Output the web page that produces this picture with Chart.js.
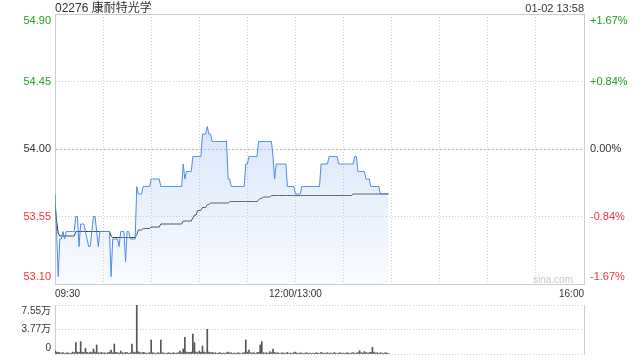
<!DOCTYPE html>
<html>
<head>
<meta charset="utf-8">
<script src="https://cdn.jsdelivr.net/npm/chart.js@4.4.0/dist/chart.umd.min.js"></script>
<style>
  body { margin: 0; background: #fff; font-family: "Liberation Sans", Arial, "Noto Sans CJK SC", sans-serif; }
  #wrap { position: relative; width: 640px; height: 360px; overflow: hidden; }
  #title { position: absolute; left: 55px; top: 1px; font-size: 12px; line-height: 14px; color: #333; }
  #time { position: absolute; right: 56px; top: 1px; font-size: 11px; line-height: 14px; color: #333; }
  #main { position: absolute; left: 0; top: 0; }
  #vol { position: absolute; left: 0; top: 300px; }
</style>
</head>
<body>
<div id="wrap">
  <canvas id="main" width="640" height="300"></canvas>
  <canvas id="vol" width="640" height="60"></canvas>
  <div id="title">02276 康耐特光学</div>
  <div id="time">01-02 13:58</div>
</div>
<script>
// minute index: 0 = 09:30, 150 = 12:00/13:00, 330 = 16:00
var xTickPos = [0, 150, 330];
var xTickLabels = ['09:30', '12:00/13:00', '16:00'];
var gridMinutes = [0, 30, 60, 90, 120, 150, 180, 210, 240, 270, 300, 330];

var priceTicks = [53.10, 53.55, 54.00, 54.45, 54.90];
var priceLabels = ['53.10', '53.55', '54.00', '54.45', '54.90'];
var pctLabels = ['-1.67%', '-0.84%', '0.00%', '+0.84%', '+1.67%'];

var volTicks = [0, 3.77, 7.55];
var volLabels = ['0', '3.77万', '7.55万'];

// last price per minute, 09:30 .. 13:58
var prices = [
  53.70,53.45,53.15,53.40,53.40,53.45,53.40,53.45,53.45,53.45,
  53.45,53.45,53.45,53.55,53.55,53.35,53.50,53.50,53.50,53.45,
  53.40,53.35,53.35,53.45,53.55,53.55,53.45,53.35,53.45,53.45,
  53.45,53.45,53.45,53.45,53.45,53.15,53.40,53.40,53.40,53.40,
  53.35,53.45,53.45,53.45,53.25,53.45,53.45,53.40,53.40,53.40,
  53.40,53.75,53.70,53.70,53.70,53.75,53.75,53.75,53.75,53.75,
  53.80,53.80,53.80,53.80,53.80,53.80,53.75,53.75,53.75,53.75,
  53.75,53.75,53.75,53.75,53.75,53.75,53.75,53.75,53.75,53.75,
  53.90,53.80,53.85,53.85,53.85,53.85,53.95,53.95,53.95,53.95,
  53.95,53.95,54.10,54.10,54.10,54.15,54.10,54.10,54.05,54.05,
  54.05,54.05,54.05,54.05,54.05,54.05,54.05,54.05,53.80,53.80,
  53.75,53.75,53.75,53.75,53.75,53.75,53.75,53.75,53.75,53.90,
  53.90,53.95,53.95,53.95,53.95,53.95,53.95,54.05,54.05,54.05,
  54.05,54.05,54.05,54.05,54.05,54.05,53.95,53.80,53.90,53.90,
  53.90,53.90,53.90,53.90,53.90,53.75,53.75,53.75,53.75,53.75,
  53.70,53.70,53.70,53.70,53.75,53.75,53.75,53.75,53.75,53.75,
  53.75,53.75,53.75,53.75,53.75,53.75,53.90,53.90,53.90,53.90,
  53.90,53.95,53.95,53.95,53.95,53.95,53.95,53.90,53.90,53.90,
  53.90,53.90,53.90,53.90,53.90,53.90,53.90,53.95,53.95,53.85,
  53.85,53.85,53.85,53.85,53.80,53.80,53.80,53.75,53.75,53.75,
  53.75,53.75,53.75,53.70,53.70,53.70,53.70,53.70,53.70
];

// average price line
var avgPrices = [
  53.64,53.52,53.44,53.42,53.42,53.42,53.42,53.42,53.42,53.42,
  53.42,53.42,53.42,53.45,53.45,53.45,53.45,53.45,53.45,53.45,
  53.45,53.45,53.45,53.45,53.45,53.45,53.45,53.45,53.45,53.45,
  53.45,53.45,53.45,53.45,53.45,53.42,53.41,53.41,53.41,53.41,
  53.41,53.41,53.41,53.41,53.41,53.41,53.41,53.41,53.41,53.41,
  53.41,53.43,53.46,53.46,53.46,53.47,53.47,53.47,53.47,53.47,
  53.48,53.48,53.48,53.48,53.48,53.48,53.50,53.50,53.50,53.50,
  53.50,53.50,53.50,53.50,53.50,53.50,53.50,53.50,53.50,53.50,
  53.52,53.52,53.52,53.52,53.52,53.52,53.54,53.56,53.56,53.59,
  53.59,53.59,53.61,53.61,53.61,53.63,53.63,53.64,53.64,53.64,
  53.64,53.64,53.64,53.64,53.64,53.64,53.64,53.64,53.64,53.65,
  53.65,53.65,53.65,53.65,53.65,53.65,53.65,53.65,53.65,53.65,
  53.65,53.65,53.65,53.65,53.65,53.65,53.65,53.66,53.67,53.67,
  53.68,53.68,53.68,53.68,53.68,53.69,53.69,53.69,53.69,53.69,
  53.69,53.69,53.69,53.69,53.69,53.69,53.69,53.69,53.69,53.69,
  53.69,53.69,53.69,53.69,53.69,53.69,53.69,53.69,53.69,53.69,
  53.69,53.69,53.69,53.69,53.69,53.69,53.69,53.69,53.69,53.69,
  53.69,53.69,53.69,53.69,53.69,53.69,53.69,53.69,53.69,53.69,
  53.69,53.69,53.69,53.69,53.69,53.69,53.70,53.70,53.70,53.70,
  53.70,53.70,53.70,53.70,53.70,53.70,53.70,53.70,53.70,53.70,
  53.70,53.70,53.70,53.70,53.70,53.70,53.70,53.70,53.70
];

// volume per minute, in 万 shares
var volumes = [
  0.50,0.30,0.25,0.20,0.15,0.20,0.10,0.15,0.20,0.10,
  0.15,0.30,0.20,1.75,0.30,0.25,1.90,0.30,0.20,0.87,
  0.25,0.15,0.30,0.20,0.77,0.30,1.39,0.20,0.15,0.25,
  0.15,0.20,0.10,0.20,0.30,0.62,0.20,1.54,0.25,0.20,
  0.15,0.46,0.20,0.15,0.25,0.20,0.10,0.20,1.54,0.30,
  0.20,7.55,0.35,0.20,0.15,0.25,0.20,0.10,0.15,0.20,
  2.16,0.20,0.15,0.10,0.20,0.15,2.16,0.20,0.15,0.10,
  0.15,0.20,0.10,0.15,0.20,0.10,0.15,0.20,0.46,0.20,
  0.77,2.57,0.30,0.20,0.25,0.30,3.08,1.75,0.30,0.20,
  0.46,0.25,1.23,0.30,0.20,3.80,0.30,0.20,0.25,0.15,
  0.20,0.10,0.15,0.20,0.10,0.15,0.10,0.20,0.30,0.15,
  0.20,0.10,0.15,0.10,0.20,0.15,0.10,0.15,0.20,2.16,
  0.30,0.62,0.20,0.15,0.20,0.10,0.20,0.25,1.39,1.90,
  0.20,0.15,0.20,0.10,0.36,0.20,0.77,0.25,0.15,0.20,
  0.10,0.15,0.20,0.10,0.15,0.25,0.10,0.15,0.10,0.20,
  0.30,0.15,0.10,0.20,0.15,0.10,0.15,0.20,0.10,0.15,
  0.10,0.15,0.10,0.20,0.15,0.10,0.25,0.15,0.10,0.15,
  0.20,0.10,0.15,0.10,0.20,0.15,0.10,0.15,0.20,0.10,
  0.15,0.10,0.20,0.15,0.10,0.15,0.20,0.10,0.15,0.20,
  0.50,0.20,0.15,0.36,0.20,0.15,0.20,0.25,1.03,0.30,
  0.15,0.20,0.10,0.20,0.15,0.10,0.20,0.15,0.10
];

Chart.defaults.font.family = '"Liberation Sans", Arial, "Noto Sans CJK SC", sans-serif';

var GRID = '#cccccc';
var RED = '#e8352e';
var GREEN = '#22a022';
var DARK = '#333333';

// push the outer labels inside the box (top one down, bottom one up)
function edgeLabel(text, index, count) {
  if (index === 0) return [text, ''];
  if (index === count - 1) return ['', text];
  return text;
}

function tickColor(c) {
  if (c.index < 2) return RED;
  if (c.index > 2) return GREEN;
  return DARK;
}

// keep the plot box exactly where the layout padding puts it
function fixWidth(w) {
  return function(s) {
    s.width = w;
    s.paddingTop = 0;
    s.paddingBottom = 0;
  };
}
function fixHeight(h) {
  return function(s) {
    s.height = h;
    s.paddingLeft = 0;
    s.paddingRight = 0;
  };
}

var watermark = {
  id: 'watermark',
  afterDraw: function(chart) {
    var a = chart.chartArea;
    var ctx = chart.ctx;
    ctx.save();
    ctx.fillStyle = '#c8c8c8';
    ctx.font = '10px "Liberation Sans", Arial, sans-serif';
    ctx.textAlign = 'right';
    ctx.textBaseline = 'alphabetic';
    ctx.fillText('sina.com', a.right - 11, a.bottom - 1.5);
    ctx.restore();
  }
};

new Chart(document.getElementById('main'), {
  type: 'line',
  data: {
    datasets: [{
      data: prices.map(function(p, i) { return { x: i, y: p }; }),
      borderColor: '#4a8ae8',
      borderWidth: 1,
      pointRadius: 0,
      tension: 0,
      fill: 'start',
      backgroundColor: function(c) {
        var a = c.chart.chartArea;
        if (!a) return 'rgba(0,0,0,0)';
        var g = c.chart.ctx.createLinearGradient(0, a.top, 0, a.bottom);
        g.addColorStop(0, 'rgba(170,200,245,0.71)');
        g.addColorStop(1, 'rgba(170,200,245,0.07)');
        return g;
      }
    }, {
      data: avgPrices.map(function(p, i) { return { x: i, y: p }; }),
      borderColor: '#333',
      borderWidth: 1,
      pointRadius: 0,
      tension: 0,
      fill: false
    }]
  },
  options: {
    responsive: false,
    animation: false,
    layout: { padding: { top: 14, left: 0, right: 0, bottom: 0 } },
    plugins: { legend: { display: false }, tooltip: { enabled: false } },
    scales: {
      x: {
        type: 'linear',
        min: 0,
        max: 330,
        offset: false,
        afterBuildTicks: function(s) { s.ticks = gridMinutes.map(function(v) { return { value: v }; }); },
        afterFit: fixHeight(16),
        grid: { color: GRID, drawTicks: false },
        border: { color: GRID, dash: [1, 2] },
        ticks: {
          autoSkip: false,
          maxRotation: 0,
          align: 'inner',
          padding: 4,
          color: DARK,
          font: { size: 10 },
          callback: function(v) {
            var k = xTickPos.indexOf(v);
            return k < 0 ? '' : xTickLabels[k];
          }
        }
      },
      y: {
        position: 'left',
        min: 53.10,
        max: 54.90,
        afterBuildTicks: function(s) { s.ticks = priceTicks.map(function(v) { return { value: v }; }); },
        afterFit: fixWidth(55),
        grid: {
          drawTicks: false,
          color: function(c) { return c.index === 2 ? '#b8b8b8' : GRID; }
        },
        border: {
          color: GRID,
          dash: function(c) {
            if (c.index === 4) return [];
            if (c.index === 2) return [2, 2];
            return [1, 2];
          }
        },
        ticks: {
          autoSkip: false,
          padding: 4,
          color: tickColor,
          font: { size: 11 },
          callback: function(v, i) { return edgeLabel(priceLabels[i], i, priceLabels.length); }
        }
      },
      y1: {
        position: 'right',
        min: 53.10,
        max: 54.90,
        afterBuildTicks: function(s) { s.ticks = priceTicks.map(function(v) { return { value: v }; }); },
        afterFit: fixWidth(56),
        grid: { display: false, drawTicks: false },
        border: { color: GRID },
        ticks: {
          autoSkip: false,
          padding: 6,
          color: tickColor,
          font: { size: 11 },
          callback: function(v, i) { return edgeLabel(pctLabels[i], i, pctLabels.length); }
        }
      }
    }
  },
  plugins: [watermark]
});

new Chart(document.getElementById('vol'), {
  type: 'bar',
  data: {
    datasets: [{
      data: volumes.map(function(v, i) { return { x: i, y: v }; }),
      backgroundColor: '#555',
      barThickness: 1
    }]
  },
  options: {
    responsive: false,
    animation: false,
    layout: { padding: { top: 5, left: 0, right: 0, bottom: 6 } },
    plugins: { legend: { display: false }, tooltip: { enabled: false } },
    scales: {
      x: {
        type: 'linear',
        min: 0,
        max: 330,
        offset: false,
        display: false,
        grid: { offset: false }
      },
      y: {
        position: 'left',
        min: 0,
        max: 7.55,
        afterBuildTicks: function(s) { s.ticks = volTicks.map(function(v) { return { value: v }; }); },
        afterFit: fixWidth(55),
        grid: { color: GRID, drawTicks: false },
        border: { color: GRID, dash: [1, 2] },
        ticks: {
          autoSkip: false,
          padding: 4,
          color: DARK,
          font: { size: 10 },
          callback: function(v, i) { return edgeLabel(volLabels[i], i, volLabels.length); }
        }
      },
      y1: {
        position: 'right',
        min: 0,
        max: 7.55,
        afterFit: fixWidth(56),
        grid: { display: false, drawTicks: false },
        border: { color: GRID },
        ticks: { display: false }
      }
    }
  }
});
</script>
</body>
</html>
